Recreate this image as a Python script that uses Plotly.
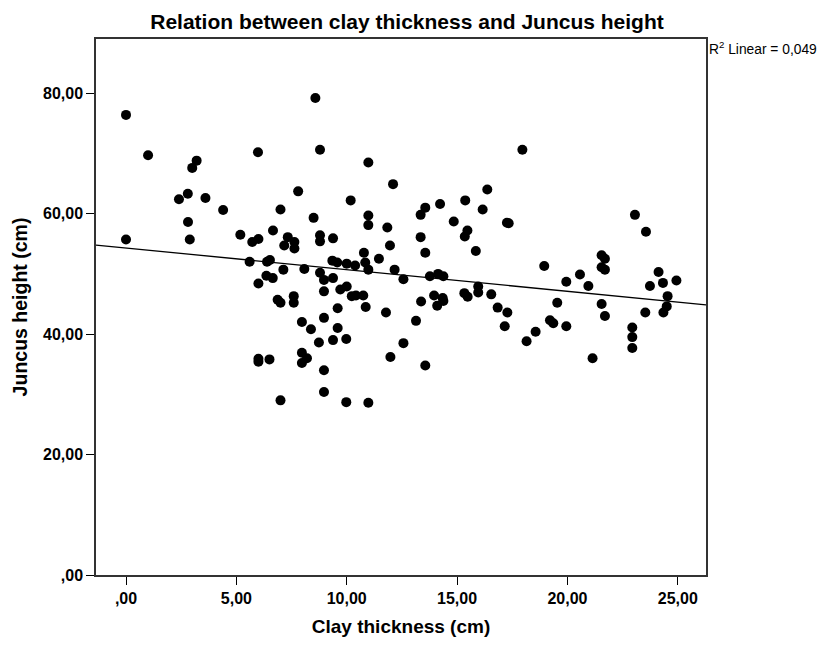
import plotly.graph_objects as go

clay = [0.0, 1.0, 3.2, 3.0, 5.98, 2.4, 2.8, 3.6, 4.4, 7.0, 7.8,
        8.58, 8.79, 10.98, 12.1, 10.18, 10.98, 8.5, 13.56, 13.35, 14.23, 15.37, 16.37, 16.16,
        17.96, 23.06,
        2.81, 0.0, 2.89, 5.18, 5.72, 6.0, 6.66, 7.33, 7.63, 7.17, 7.63, 5.6, 6.39, 6.52,
        7.13, 8.08, 6.36, 6.65, 6.0, 6.87, 7.0, 7.6, 7.6, 7.97, 6.0, 6.0, 6.5, 7.97, 7.97, 7.0,
        10.98, 11.84, 14.85, 15.47, 15.35, 17.26, 8.79, 8.79, 9.38, 13.35, 11.96, 13.56, 15.85,
        10.78, 11.46, 9.35, 9.57, 10.0, 10.38, 10.84, 10.98, 8.79, 12.17, 12.57, 13.77, 14.14,
        14.38, 8.97, 9.38, 8.97, 9.71, 10.0, 10.23, 10.42, 10.75, 9.59, 10.86, 11.78, 13.37,
        13.96, 14.35, 14.1, 14.38, 15.33, 15.48, 15.96, 15.96, 16.55, 16.84, 17.28, 17.16,
        8.97, 8.38, 9.59, 13.14, 8.74, 9.38, 9.98, 12.57, 8.2, 11.98, 13.56, 8.97, 8.97,
        9.98, 10.98,
        17.34, 23.56, 18.95, 21.55, 21.7, 21.55, 21.7, 20.57, 19.95, 20.95, 24.13, 23.74,
        24.33, 24.94, 24.54, 24.5, 24.35, 23.53, 19.54, 19.21, 19.36, 19.95, 21.55, 21.7,
        18.56, 18.15, 22.94, 22.94, 22.94, 21.14]

juncus = [76.4, 69.7, 68.8, 67.6, 70.2, 62.4, 63.3, 62.6, 60.6, 60.7, 63.7,
          79.2, 70.6, 68.5, 64.9, 62.2, 59.7, 59.3, 61.0, 59.8, 61.6, 62.2, 64.0, 60.7,
          70.6, 59.8,
          58.6, 55.7, 55.7, 56.5, 55.3, 55.8, 57.2, 56.1, 55.3, 54.7, 54.2, 52.0, 52.0, 52.3,
          50.7, 50.8, 49.7, 49.3, 48.4, 45.7, 45.2, 46.3, 45.2, 42.0, 35.9, 35.4, 35.8, 36.9, 35.2, 29.0,
          58.1, 57.7, 58.7, 57.2, 56.2, 58.5, 56.4, 55.4, 55.9, 56.1, 54.7, 53.5, 53.8,
          53.5, 52.5, 52.2, 51.9, 51.7, 51.4, 51.9, 50.7, 50.2, 50.7, 49.1, 49.6, 50.0,
          49.6, 49.0, 49.3, 47.1, 47.4, 47.9, 46.3, 46.4, 46.4, 44.3, 44.5, 43.6, 45.4,
          46.4, 46.0, 44.7, 45.5, 46.8, 46.2, 47.9, 46.9, 46.6, 44.4, 43.6, 41.3,
          42.7, 40.8, 41.0, 42.2, 38.6, 39.0, 39.2, 38.5, 36.0, 36.2, 34.8, 34.0, 30.4,
          28.7, 28.6,
          58.4, 57.0, 51.3, 53.1, 52.5, 51.1, 50.7, 49.9, 48.7, 48.0, 50.3, 48.0,
          48.5, 48.9, 46.3, 44.6, 43.6, 43.6, 45.2, 42.3, 41.8, 41.3, 45.0, 43.0,
          40.4, 38.8, 41.1, 39.5, 37.7, 36.0]

fit_intercept = 54.3
fit_slope = -0.36
x_range = [-1.36, 26.28]
y_range = [0, 89]

x_ticks = [0, 5, 10, 15, 20, 25]
x_ticktext = [",00", "5,00", "10,00", "15,00", "20,00", "25,00"]
y_ticks = [0, 20, 40, 60, 80]
y_ticktext = [",00", "20,00", "40,00", "60,00", "80,00"]

fig = go.Figure()
fig.add_trace(go.Scatter(
    x=clay, y=juncus, mode="markers",
    marker=dict(size=10, color="black", line=dict(width=0)),
    showlegend=False, hoverinfo="x+y"))

line_x = x_range
line_y = [fit_intercept + fit_slope * v for v in line_x]
fig.add_trace(go.Scatter(x=line_x, y=line_y, mode="lines",
                         line=dict(color="black", width=1.3), showlegend=False))

font_family = "Liberation Sans, Arial, sans-serif"
fig.update_layout(
    width=821, height=646,
    margin=dict(l=96, r=115, t=39, b=67),
    paper_bgcolor="white", plot_bgcolor="white",
    title=dict(text="<b>Relation between clay thickness and Juncus height</b>",
               x=407 / 821, xanchor="center", xref="container",
               y=1 - 22 / 646, yanchor="middle", yref="container",
               font=dict(family=font_family, size=21, color="black")),
    xaxis=dict(range=x_range, tickvals=x_ticks, ticktext=x_ticktext,
               showgrid=False, zeroline=False, showline=True, linecolor="#333",
               linewidth=1.5, mirror=True, ticks="outside", ticklen=8, tickcolor="black",
               tickwidth=1.3,
               tickfont=dict(family=font_family, size=16, color="black", weight="bold"),
               title=dict(text="<b>Clay thickness (cm)</b>", standoff=14,
                          font=dict(family=font_family, size=19, color="black"))),
    yaxis=dict(range=y_range, tickvals=y_ticks, ticktext=y_ticktext,
               showgrid=False, zeroline=False, showline=True, linecolor="#333",
               linewidth=1.5, mirror=True, ticks="outside", ticklen=8, tickcolor="black",
               tickwidth=1.3,
               tickfont=dict(family=font_family, size=16, color="black", weight="bold"),
               title=dict(text="<b>Juncus height (cm)</b>", standoff=10,
                          font=dict(family=font_family, size=19.5, color="black"))),
    annotations=[dict(text="R<sup>2</sup> Linear = 0,049", xref="paper", yref="paper",
                      x=1.002, y=0.983, xanchor="left", yanchor="middle", showarrow=False,
                      font=dict(family=font_family, size=13.8, color="black"))],
)

fig.write_html("out.html")
